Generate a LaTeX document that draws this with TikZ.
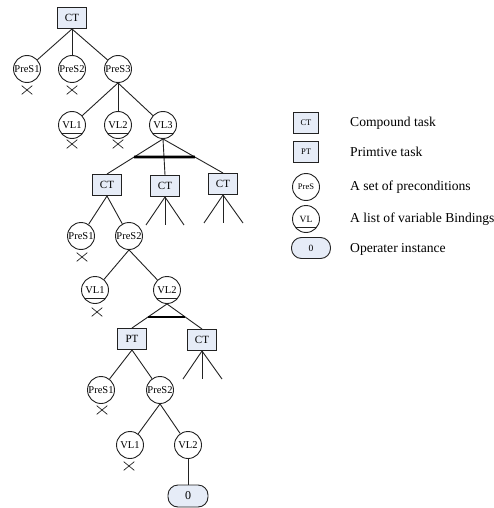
\documentclass[tikz,border=0pt]{standalone}
\usepackage{fontspec}
\setmainfont{Liberation Serif}
\usetikzlibrary{shapes.misc,calc}
\definecolor{boxblue}{HTML}{E6ECF7}
\definecolor{edge}{HTML}{222222}
\tikzset{
  tbox/.style={rectangle, draw=edge, fill=boxblue, line width=1pt, minimum width=29pt, minimum height=21pt, inner sep=0pt, font=\fontsize{11}{11}\selectfont},
  lbox/.style={tbox, minimum width=25pt, font=\fontsize{8.5}{8.5}\selectfont},
  cir/.style={circle, draw=edge, fill=white, line width=0.9pt, minimum size=27pt, inner sep=0pt, font=\fontsize{10.5}{10.5}\selectfont},
  vlc/.style={cir, path picture={\draw[edge, line width=0.9pt] ([yshift=5.5pt]path picture bounding box.south west) -- ([yshift=5.5pt]path picture bounding box.south east);}},
  onode/.style={rectangle, rounded corners=10pt, draw=edge, fill=boxblue, line width=0.9pt, minimum width=40pt, minimum height=22pt, inner sep=0pt, font=\fontsize{12}{12}\selectfont},
  xmark/.style={cross out, draw=edge, line width=0.7pt, minimum width=10pt, minimum height=8pt, inner sep=0pt},
  ln/.style={draw=edge, line width=0.9pt},
  bar/.style={draw=black, line width=2.6pt},
  ltext/.style={anchor=west, inner sep=0pt, font=\fontsize{13.6}{13.6}\selectfont}
}
\begin{document}
\begin{tikzpicture}[x=1pt,y=-1pt]
\useasboundingbox (0,0) rectangle (494,508);
% level 0
\node[tbox] (root) at (72,18) {CT};
% level 1
\node[cir] (p1) at (27,69) {PreS1};
\node[cir] (p2) at (72,69) {PreS2};
\node[cir] (p3) at (118,69) {PreS3};
\node[xmark] (x1) at (27,90) {};
\node[xmark] (x2) at (72,90) {};
% level 2
\node[vlc] (v1) at (72,125) {VL1};
\node[vlc] (v2) at (118,125) {VL2};
\node[vlc] (v3) at (163,125) {VL3};
\node[xmark] (x3) at (72,144) {};
\node[xmark] (x4) at (118,144) {};
% level 3
\node[tbox] (c1) at (107,185) {CT};
\node[tbox] (c2) at (165,186) {CT};
\node[tbox] (c3) at (223,184) {CT};
\coordinate (f1) at (146,225); \coordinate (f2) at (165,225); \coordinate (f3) at (184,225);
\coordinate (g1) at (204,223); \coordinate (g2) at (223,223); \coordinate (g3) at (243,223);
% level 4
\node[cir] (q1) at (81,236) {PreS1};
\node[cir] (q2) at (129,236) {PreS2};
\node[xmark] (x5) at (82,257) {};
% level 5
\node[vlc] (w1) at (95,290) {VL1};
\node[vlc] (w2) at (167,290) {VL2};
\node[xmark] (x6) at (97,312) {};
% level 6
\node[tbox] (pt) at (132,339) {PT};
\node[tbox] (c4) at (202,340) {CT};
\coordinate (h1) at (183,379); \coordinate (h2) at (202,379); \coordinate (h3) at (222,379);
% level 7
\node[cir] (r1) at (101,390) {PreS1};
\node[cir] (r2) at (160,390) {PreS2};
\node[xmark] (x7) at (102,410) {};
% level 8
\node[cir] (u1) at (130,445) {VL1};
\node[cir] (u2) at (188,445) {VL2};
\node[xmark] (x8) at (129,466) {};
\node[onode] (o) at (188,496) {0};

% edges
\foreach \t in {p1,p2,p3} \draw[ln] (root.south) -- (\t);
\foreach \t in {v1,v2,v3} \draw[ln] (p3.south) -- (\t);
\foreach \t in {c1,c2,c3} \draw[ln] (v3.south) -- (\t.north);
\foreach \t in {f1,f2,f3} \draw[ln] (c2.south) -- (\t);
\foreach \t in {g1,g2,g3} \draw[ln] (c3.south) -- (\t);
\foreach \t in {q1,q2} \draw[ln] (c1.south) -- (\t);
\foreach \t in {w1,w2} \draw[ln] (q2.south) -- (\t);
\foreach \t in {pt,c4} \draw[ln] (w2.south) -- (\t.north);
\foreach \t in {h1,h2,h3} \draw[ln] (c4.south) -- (\t);
\foreach \t in {r1,r2} \draw[ln] (pt.south) -- (\t);
\foreach \t in {u1,u2} \draw[ln] (r2.south) -- (\t);
\draw[ln] (u2) -- (o);
% bars
\coordinate (b1) at (intersection of v3.south--c1.north and 0,157--400,157);
\coordinate (b2) at (intersection of v3.south--c3.north and 0,157--400,157);
\draw[bar] (b1) -- (b2);
\coordinate (b3) at (intersection of w2.south--pt.north and 0,317--400,317);
\coordinate (b4) at (intersection of w2.south--c4.north and 0,317--400,317);
\draw[bar] (b3) -- (b4);

% legend
\node[lbox] (lct) at (306,123) {CT};
\node[lbox] (lpt) at (306,152) {PT};
\node[cir, font=\fontsize{8.5}{8.5}\selectfont] (lpre) at (306,187) {PreS};
\node[vlc, font=\fontsize{9.5}{9.5}\selectfont] (lvl) at (306,219) {VL};
\node[onode, minimum width=39pt, minimum height=21pt, font=\fontsize{9.5}{9.5}\selectfont] (lo) at (311,248) {0};
\node[ltext] (t1) at (350,123) {Compound task};
\node[ltext] (t2) at (350,152) {Primtive task};
\node[ltext] (t3) at (350,187) {A set of preconditions};
\node[ltext] (t4) at (350,219) {A list of variable Bindings};
\node[ltext] (t5) at (350,249) {Operater instance};
\end{tikzpicture}
\end{document}
